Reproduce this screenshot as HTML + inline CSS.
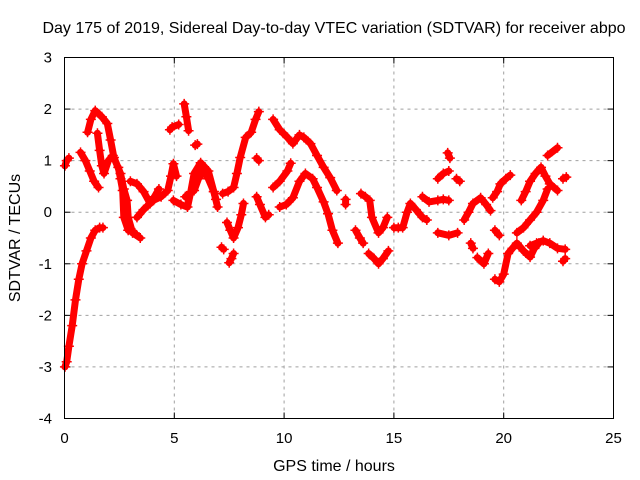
<!DOCTYPE html>
<html><head><meta charset="utf-8"><style>
body{margin:0;background:#fff}
svg{display:block;font-family:"Liberation Sans",sans-serif}
</style></head><body>
<svg id="chart" width="640" height="480" viewBox="0 0 640 480" xmlns="http://www.w3.org/2000/svg">
<rect width="640" height="480" fill="#fff"/>
<text x="334" y="33" font-size="16" text-anchor="middle" fill="#000">Day 175 of 2019, Sidereal Day-to-day VTEC variation (SDTVAR) for receiver abpo</text>
<g id="grid"></g>
<g id="ticks"></g>
<g id="marks"></g>
<rect x="64.5" y="57.5" width="549" height="361" fill="none" stroke="#000" stroke-width="1"/>
<text x="334" y="471" font-size="16" text-anchor="middle">GPS time / hours</text>
<text transform="translate(20,238) rotate(-90)" font-size="16" text-anchor="middle">SDTVAR / TECUs</text>
</svg>
<script>
const xTicks=[0,5,10,15,20,25];
const yTicks=[-4,-3,-2,-1,0,1,2,3];
const trackA=[[0.02,-3.0],[0.1,-2.9],[0.2,-2.6],[0.35,-2.2],[0.5,-1.7],[0.65,-1.3],[0.8,-1.0],[1.0,-0.75],[1.2,-0.5],[1.4,-0.35],[1.6,-0.3],[1.75,-0.3]];
const trackB=[[0.02,0.9],[0.1,1.0],[0.2,1.05]];
const trackC=[[0.73,1.16],[0.95,1.0],[1.15,0.8],[1.35,0.6],[1.55,0.48]];
const trackD=[[1.05,1.55],[1.2,1.8],[1.4,1.97],[1.7,1.85],[1.95,1.72],[2.1,1.4],[2.25,1.06],[2.55,0.75],[2.7,0.45],[2.85,0.23],[2.9,-0.1],[3.1,-0.4],[3.45,-0.5]];
const trackD2=[[1.5,1.53],[1.6,1.2],[1.7,0.9],[1.8,0.75],[2.0,1.0],[2.2,1.1]];
const trackD3=[[2.45,0.87],[2.55,0.65],[2.65,0.42],[2.7,-0.1],[2.9,-0.35],[3.2,-0.4]];
const trackD4=[[3.0,0.6],[3.3,0.55],[3.6,0.4],[3.9,0.17],[4.1,0.3],[4.3,0.45]];
const trackE=[[3.3,-0.1],[3.6,0.05],[4.05,0.23],[4.4,0.3],[4.7,0.42],[4.85,0.7],[4.96,0.94],[5.1,0.7]];
const trackF=[[4.96,0.23],[5.3,0.15],[5.6,0.1],[5.75,0.4],[5.9,0.75],[6.2,0.96],[6.55,0.8],[6.8,0.4],[6.97,0.1]];
const trackG=[[5.5,0.3],[5.9,0.42],[6.1,0.65],[6.3,0.8],[6.55,0.65],[6.8,0.4],[6.9,0.25]];
const trackS1=[[5.45,2.1],[5.55,1.85],[5.65,1.58]];
const trackS2=[[4.8,1.6],[4.9,1.65],[5.2,1.7]];
const trackS3=[[5.95,1.3],[6.05,1.32]];
const trackH=[[7.2,0.36],[7.45,0.4],[7.7,0.48],[7.85,0.75],[8.0,1.06],[8.25,1.45],[8.5,1.55],[8.7,1.8],[8.85,1.95]];
const trackI=[[7.4,-0.2],[7.55,-0.35],[7.7,-0.5],[7.9,-0.3],[8.05,-0.05],[8.15,0.17]];
const trackI2=[[7.5,-0.98],[7.6,-0.9],[7.7,-0.8]];
const trackI3=[[7.15,-0.68],[7.25,-0.72]];
const trackJ=[[8.75,0.3],[8.9,0.15],[9.15,-0.1],[9.3,-0.05]];
const trackJ2=[[8.75,1.05],[8.85,1.0]];
const trackK=[[9.5,1.8],[9.8,1.6],[10.15,1.45],[10.4,1.33],[10.7,1.5],[10.9,1.45],[11.2,1.33],[11.5,1.1],[11.8,0.87],[12.1,0.67],[12.4,0.42]];
const trackL=[[9.5,0.48],[9.8,0.6],[10.15,0.8],[10.3,0.95]];
const trackL2=[[9.8,0.1],[10.1,0.15],[10.4,0.28],[10.7,0.6],[10.97,0.75],[11.3,0.65],[11.5,0.48],[11.8,0.2],[12.0,-0.03],[12.2,-0.35],[12.45,-0.6]];
const trackM=[[12.8,0.15],[12.8,0.25]];
const trackN=[[13.5,0.36],[13.7,0.3],[13.9,0.23],[14.0,-0.1],[14.3,-0.4],[14.5,-0.3],[14.7,-0.1]];
const trackN2=[[13.25,-0.35],[13.45,-0.5],[13.6,-0.6]];
const trackN3=[[13.85,-0.8],[14.1,-0.9],[14.3,-1.0],[14.5,-0.9],[14.75,-0.75]];
const trackO=[[15.0,-0.3],[15.2,-0.3],[15.4,-0.3],[15.6,0.0],[15.75,0.17],[16.0,0.05],[16.3,-0.1],[16.5,-0.15]];
const trackP=[[16.3,0.3],[16.6,0.2],[17.0,0.23],[17.25,0.25],[17.5,0.23]];
const trackP2=[[17.0,0.65],[17.25,0.75],[17.5,0.8]];
const trackP3=[[17.45,1.15],[17.55,1.05]];
const trackP4=[[17.85,0.65],[18.0,0.6]];
const trackQ=[[17.0,-0.4],[17.5,-0.45],[17.9,-0.4]];
const trackR=[[18.2,-0.15],[18.4,0.0],[18.6,0.17],[18.95,0.28],[19.2,0.15],[19.4,0.03]];
const trackR2=[[18.5,-0.6],[18.6,-0.7]];
const trackR3=[[18.8,-0.88],[19.1,-1.0],[19.3,-0.8]];
const trackR4=[[19.6,-0.35],[19.8,-0.45]];
const trackT=[[19.5,0.28],[19.7,0.4],[19.85,0.55],[20.1,0.65],[20.3,0.72]];
const trackU=[[19.6,-1.3],[19.8,-1.35],[20.0,-1.2],[20.2,-0.8],[20.4,-0.7],[20.6,-0.6],[20.9,-0.75],[21.2,-0.87],[21.4,-0.7],[21.6,-0.6]];
const trackV=[[20.6,-0.4],[20.9,-0.3],[21.2,-0.15],[21.5,0.0],[21.8,0.23],[22.0,0.45]];
const trackW=[[20.8,0.23],[21.0,0.4],[21.2,0.6],[21.45,0.75],[21.7,0.87],[21.9,0.7],[22.1,0.55],[22.45,0.42]];
const trackX=[[21.2,-0.65],[21.5,-0.6],[21.8,-0.55],[22.1,-0.6],[22.45,-0.7],[22.8,-0.72]];
const trackY=[[22.7,-0.95],[22.8,-0.9]];
const trackZ=[[22.7,0.65],[22.85,0.68]];
const trackZ2=[[22.0,1.1],[22.45,1.25]];
const tracks=[trackA,trackB,trackC,trackD,trackD2,trackD3,trackD4,trackE,trackF,trackG,trackS1,trackS2,trackS3,trackH,trackI,trackI2,trackI3,trackJ,trackJ2,trackK,trackL,trackL2,trackM,trackN,trackN2,trackN3,trackO,trackP,trackP2,trackP3,trackP4,trackQ,trackR,trackR2,trackR3,trackR4,trackT,trackU,trackV,trackW,trackX,trackY,trackZ,trackZ2];

const NS='http://www.w3.org/2000/svg';
const X0=64.5,X1=613.5,Y0=418.5,Y1=57.5;
const xs=t=>X0+(t-0)/(25-0)*(X1-X0);
const ys=v=>Y0-(v-(-4))/(3-(-4))*(Y0-Y1);
const grid=document.getElementById('grid'),ticks=document.getElementById('ticks'),marks=document.getElementById('marks');
function mk(tag,attrs,parent){const e=document.createElementNS(NS,tag);for(const k in attrs)e.setAttribute(k,attrs[k]);parent.appendChild(e);return e;}
xTicks.forEach(t=>{
  const x=xs(t);
  if(t>0&&t<25){const g=mk('line',{x1:x,x2:x,y1:Y1,y2:Y0,stroke:'#a0a0a0','stroke-dasharray':'3,4','stroke-width':1},grid);
  
  }
  mk('line',{x1:x,x2:x,y1:Y0,y2:Y0-6,stroke:'#000'},ticks);
  mk('line',{x1:x,x2:x,y1:Y1,y2:Y1+6,stroke:'#000'},ticks);
  const l=mk('text',{x:x,y:443,'font-size':15,'text-anchor':'middle'},ticks);l.textContent=t;
  
  
});
yTicks.forEach(v=>{
  const y=ys(v);
  if(v>-4&&v<3){const g=mk('line',{x1:X0,x2:X1,y1:y,y2:y,stroke:'#a0a0a0','stroke-dasharray':'3,4','stroke-width':1},grid);
  
  }
  mk('line',{x1:X0,x2:X0+6,y1:y,y2:y,stroke:'#000'},ticks);
  mk('line',{x1:X1,x2:X1-6,y1:y,y2:y,stroke:'#000'},ticks);
  const l=mk('text',{x:52,y:y+5,'font-size':15,'text-anchor':'end'},ticks);l.textContent=v;
  
  
});
tracks.forEach(tr=>{
  const pts=tr.map(p=>xs(p[0]).toFixed(1)+','+ys(p[1]).toFixed(1)).join(' ');
  const pl=mk('polyline',{points:pts,fill:'none',stroke:'#ff0000','stroke-width':7,'stroke-linejoin':'round','stroke-linecap':'round'},marks);
  
  
  tr.forEach(p=>{
    const x=xs(p[0]),y=ys(p[1]);
    const m=mk('path',{d:`M${x-5},${y}H${x+5}M${x},${y-5}V${y+5}`,stroke:'#ff0000','stroke-width':1.5},marks);
    
    
  });
});
</script>
</body></html>
